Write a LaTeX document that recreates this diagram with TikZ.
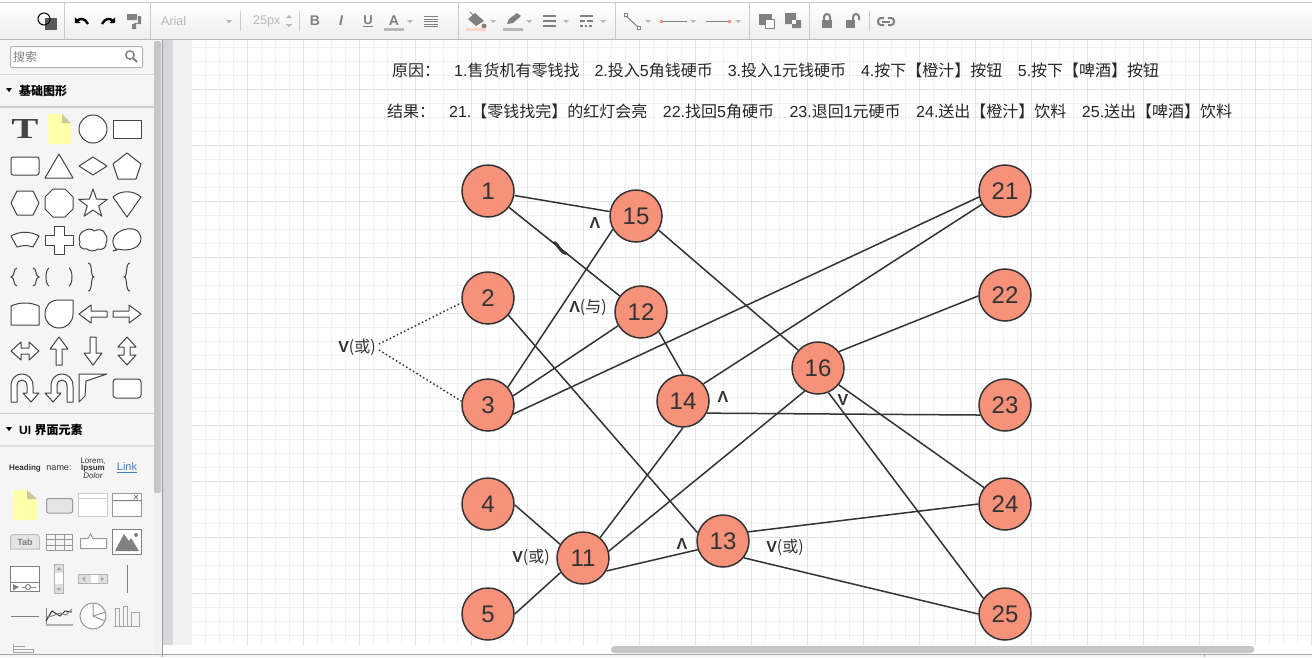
\documentclass[tikz,border=0pt]{standalone}
\usepackage{fontspec}
\setmainfont{Liberation Sans}
\newfontfamily\cjkfont{Noto Sans CJK SC}
\newfontfamily\serifface{Liberation Serif}
\newcommand{\zh}[1]{{\cjkfont #1}}
\usetikzlibrary{arrows.meta, positioning, calc}
\definecolor{gatefill}{HTML}{F6917A}
\definecolor{gateline}{HTML}{333333}
\definecolor{gridminor}{HTML}{F1F1F1}
\definecolor{gridmajor}{HTML}{E3E3E3}
\definecolor{panelbg}{HTML}{F5F5F5}
\definecolor{barbg}{HTML}{F2F2F2}
\definecolor{stripbg}{HTML}{D6D7DB}
\definecolor{thumbgray}{HTML}{C6C6C6}
\definecolor{iconline}{HTML}{444444}
\definecolor{tooldim}{HTML}{B8B8B8}
\definecolor{toolgray}{HTML}{808080}
\definecolor{notefill}{HTML}{FFFFAA}
\definecolor{linkblue}{HTML}{3C7FC6}
\begin{document}
\begin{tikzpicture}[x=1pt, y=-1pt,
        gate/.style={circle, draw=gateline, fill=gatefill, line width=1.5pt, minimum size=52pt, inner sep=0pt,
          text=gateline, font=\fontsize{24}{24}\selectfont},
        wire/.style={draw=gateline, line width=1.5pt},
        orwire/.style={draw=gateline, line width=1.5pt, dash pattern=on 1.5pt off 2.5pt},
        optext/.style={inner sep=0pt, text=gateline, font=\fontsize{16}{16}\selectfont},
        toptext/.style={anchor=west, inner sep=0pt, text=black!85, font=\fontsize{16}{16}\selectfont},
        icon/.style={draw=iconline, line width=1pt, fill=white, line join=round},
        uiicon/.style={draw=toolgray!80, line width=1pt, fill=white},
        uitext/.style={inner sep=0pt, text=black!80, font=\fontsize{9}{10}\selectfont},
        headtext/.style={anchor=west, inner sep=0pt, text=black, font=\fontsize{12}{12}\selectfont\bfseries},
        sepline/.style={draw=black!20, line width=1pt}]
  \useasboundingbox (0,0) rectangle (1312,657);
  % canvas and grid
  \fill[white] (0,0) rectangle (1312,657);
  \foreach \gx in {191,205,...,1311} \draw[gridminor, line width=1pt] (\gx,40) -- (\gx,645);
  \foreach \gy in {47,61,...,645} \draw[gridminor, line width=1pt] (192,\gy) -- (1312,\gy);
  \foreach \gx in {191,247,...,1311} \draw[gridmajor, line width=1pt] (\gx,40) -- (\gx,645);
  \foreach \gy in {89,145,...,645} \draw[gridmajor, line width=1pt] (192,\gy) -- (1312,\gy);
  % margins and scrollbars
  \fill[barbg] (173,40) rectangle (192,645);
  \fill[stripbg] (163,40) rectangle (173,645);
  \fill[panelbg] (0,40) rectangle (154,657);
  \fill[barbg] (154,40) rectangle (162,657);
  \fill[thumbgray, rounded corners=2pt] (154,41) rectangle (161,493);
  \draw[black!40, line width=1pt] (162.5,40) -- (162.5,657);
  \fill[thumbgray, rounded corners=3pt] (611,646) rectangle (1254,653);
  \fill[panelbg] (163,655) rectangle (1312,657);
  \draw[black!35, line width=1pt] (0,654.5) -- (1312,654.5);
  \draw[black!35, line width=1pt] (1204.5,654.5) -- (1204.5,657);
  % toolbar
  \shade[top color=white, bottom color=black!7] (0,3) rectangle (1312,39);
  \draw[black!20, line width=1pt] (0,2.5) -- (1312,2.5);
  \draw[black!28, line width=1pt] (0,39.5) -- (1312,39.5);
  \foreach \sx in {64.5,150.5,458.5,615.5,749.5,809.5} \draw[sepline] (\sx,3) -- (\sx,39);
  \foreach \sx in {240.5,299.5,869.5} \draw[sepline] (\sx,11) -- (\sx,31);
  \fill[black!65] (45,18) rectangle (57,30);
  \draw[black, line width=1pt] (44,19) circle[radius=6];
  \draw[black, line width=2.4pt, -{Triangle[length=4pt,width=8pt]}] (88,24) .. controls (85,18) and (80,18) .. (75,23);
  \draw[black, line width=2.4pt, -{Triangle[length=4pt,width=8pt]}] (102,24) .. controls (105,18) and (110,18) .. (115,23);
  \fill[toolgray] (127,14) rectangle (137,20) (138,16) rectangle (141,24) (132,24) rectangle (136,29);
  \draw[toolgray, line width=1pt] (138,23.5) -- (134,23.5) -- (134,25);
  \node[inner sep=0pt, anchor=west, text=tooldim, font=\fontsize{12.5}{12.5}\selectfont] (fontname) at (161,21) {Arial};
  \node[inner sep=0pt, anchor=west, text=tooldim, font=\fontsize{12.5}{12.5}\selectfont] (fontsize) at (253,21) {25px};
  \foreach \ax in {229,410,493,529,566,603,648,693,738} \fill[tooldim] (\ax-3,20) -- (\ax+3,20) -- (\ax,23) -- cycle;
  \fill[tooldim] (286,18) -- (292,18) -- (289,15) -- cycle (286,24) -- (292,24) -- (289,27) -- cycle;
  \node[inner sep=0pt, text=toolgray, font=\fontsize{14}{14}\selectfont\bfseries] (boldbtn) at (315,20.5) {B};
  \node[inner sep=0pt, text=toolgray, font=\fontsize{14}{14}\selectfont\bfseries\itshape] (italicbtn) at (341,20.5) {I};
  \node[inner sep=0pt, text=toolgray, font=\fontsize{13}{13}\selectfont\bfseries] (underbtn) at (368,20) {U};
  \draw[toolgray, line width=1pt] (363,26.5) -- (373,26.5);
  \node[inner sep=0pt, text=toolgray, font=\fontsize{14}{14}\selectfont\bfseries] (colorbtn) at (394,20.5) {A};
  \fill[tooldim] (384,28) rectangle (404,31);
  \foreach \ly in {16.5,19,21.5,24,26.5} \draw[toolgray, line width=1pt] (424,\ly) -- (438,\ly);
  % fill, line, weight, dash
  \fill[toolgray] (468,19) -- (475,13) -- (484,21) -- (476,26) -- cycle;
  \draw[toolgray, line width=1pt] (470,12) -- (476,18);
  \fill[toolgray] (484,26) circle[radius=2.5];
  \fill[gatefill!40] (466,28) rectangle (486,31);
  \fill[toolgray] (507,24) -- (509,19) -- (517,13) -- (521,16) -- (513,23) -- cycle;
  \fill[tooldim] (503,28) rectangle (523,31);
  \foreach \ly in {16,21,26} \draw[toolgray, line width=2pt] (543,\ly) -- (556,\ly);
  \draw[toolgray, line width=2pt] (580,16) -- (593,16) (580,21) -- (585,21) (587,21) -- (593,21);
  \draw[toolgray, line width=2pt, dash pattern=on 2.5pt off 2pt] (580,26) -- (593,26);
  \draw[toolgray, line width=1pt] (625,15) -- (638,27);
  \draw[toolgray, line width=1pt, fill=white] (624,13) rectangle (627,16) (637,26) rectangle (640,29);
  \draw[toolgray, line width=1pt] (662,21.5) -- (687,21.5);
  \fill[gatefill] (660,20) rectangle (663,23);
  \draw[toolgray, line width=1pt] (706,21.5) -- (730,21.5);
  \fill[gatefill] (728,20) rectangle (731,23);
  % order, lock, link
  \draw[toolgray, line width=1pt, fill=toolgray] (759,14) rectangle (771,24);
  \draw[toolgray, line width=1pt, fill=white] (765,19) rectangle (774,28);
  \fill[toolgray] (785,13) rectangle (796,24) (792,20) rectangle (801,28);
  \fill[white] (792,20) rectangle (796,24);
  \fill[toolgray] (822,20) rectangle (832,28);
  \draw[toolgray, line width=2pt] (824,20) -- (824,17) arc[start angle=180, end angle=360, radius=3] -- (830,20);
  \fill[toolgray] (846,20) rectangle (855,28);
  \draw[toolgray, line width=2pt] (853,20) -- (853,17) arc[start angle=180, end angle=360, radius=3] -- (859,20);
  \draw[toolgray, line width=2pt, rounded corners=3pt] (884,18) -- (878,18) -- (878,25) -- (884,25);
  \draw[toolgray, line width=2pt, rounded corners=3pt] (888,18) -- (894,18) -- (894,25) -- (888,25);
  \draw[toolgray, line width=2pt] (882,21.5) -- (890,21.5);
  % search box and headers
  \draw[black!30, fill=white, line width=1pt, rounded corners=2pt] (10.5,46.5) rectangle (142.5,67.5);
  \node[inner sep=0pt, anchor=west, text=black!50, font=\fontsize{12}{12}\selectfont] (searchtext) at (13,57) {\zh{搜索}};
  \draw[toolgray, line width=1.4pt] (130,55) circle[radius=4.2];
  \draw[toolgray, line width=2pt] (133,58) -- (137,62);
  \draw[black!15, line width=1pt] (0,74.5) -- (154,74.5);
  \fill[black] (6,88) -- (12,88) -- (9,92) -- cycle;
  \node[headtext] (basichead) at (19,90.5) {\zh{基础图形}};
  \draw[black!20, line width=2pt] (0,107) -- (154,107);
  \draw[black!20, line width=1pt] (0,413.5) -- (154,413.5);
  \fill[black] (6,427) -- (12,427) -- (9,431) -- cycle;
  \node[headtext] (uihead) at (19,429.5) {UI \zh{界面元素}};
  \draw[black!12, line width=2pt] (0,446) -- (154,446);
  % basic shapes
  \node[inner sep=0pt, text=iconline, xscale=1.4, font=\fontsize{29}{29}\serifface\bfseries] (texticon) at (25,129) {T};
  \fill[notefill] (48,114) -- (62,114) -- (71,123) -- (71,144) -- (48,144) -- cycle;
  \fill[notefill!70!black!70] (62,114) -- (71,123) -- (62,123) -- cycle;
  \draw[icon] (93,129) circle[radius=14];
  \draw[icon] (113,120) rectangle (141,138);
  \draw[icon, rounded corners=2pt] (11,157) rectangle (39,175);
  \draw[icon] (59,154) -- (73,178) -- (45,178) -- cycle;
  \draw[icon] (79,166) -- (93,157) -- (107,166) -- (93,175) -- cycle;
  \draw[icon] (127,153) -- (141,164) -- (136,179) -- (118,179) -- (113,164) -- cycle;
  \draw[icon] (17,191) -- (33,191) -- (39,203) -- (33,215) -- (17,215) -- (11,203) -- cycle;
  \draw[icon] (53,189) -- (65,189) -- (73,197) -- (73,209) -- (65,217) -- (53,217) -- (45,209) -- (45,197) -- cycle;
  \draw[icon] (93,189) -- (96.5,199.1) -- (107.3,199.4) -- (98.7,205.9) -- (101.8,216.1) -- (93,210) -- (84.2,216.1) -- (87.3,205.9) -- (78.7,199.4) -- (89.5,199.1) -- cycle;
  \draw[icon] (113,197) .. controls (121,190) and (133,190) .. (141,197) -- (127,217) -- cycle;
  \draw[icon] (11,236) .. controls (20,231) and (30,231) .. (39,236) -- (33,247) .. controls (27,245) and (23,245) .. (17,247) -- cycle;
  \draw[icon] (54,226) -- (64,226) -- (64,235) -- (73,235) -- (73,245) -- (64,245) -- (64,254) -- (54,254) -- (54,245) -- (45,245) -- (45,235) -- (54,235) -- cycle;
  \draw[icon] (84,231) .. controls (88,228) and (92,229) .. (94,231) .. controls (98,229) and (104,229) .. (105,234) .. controls (108,237) and (107,241) .. (106,243) .. controls (107,247) and (102,251) .. (98,249) .. controls (94,252) and (89,251) .. (87,249) .. controls (81,250) and (78,245) .. (80,242) .. controls (78,238) and (80,232) .. (84,231);
  \draw[icon] (117,250) .. controls (110,244) and (111,232) .. (127,229) .. controls (139,227) and (141,236) .. (141,239) .. controls (141,247) and (130,252) .. (118,249) -- (113,251) -- cycle;
  \draw[iconline, line width=1pt] (17,268) .. controls (13,268) and (15,277) .. (11,277) .. controls (15,277) and (13,286) .. (17,286);
  \draw[iconline, line width=1pt] (33,268) .. controls (37,268) and (35,277) .. (39,277) .. controls (35,277) and (37,286) .. (33,286);
  \draw[iconline, line width=1pt] (49,268) .. controls (45,270) and (45,284) .. (49,286);
  \draw[iconline, line width=1pt] (69,268) .. controls (73,270) and (73,284) .. (69,286);
  \draw[iconline, line width=1pt] (88,263) .. controls (93,263) and (90,277) .. (94,277) .. controls (90,277) and (93,291) .. (88,291);
  \draw[iconline, line width=1pt] (130,263) .. controls (125,263) and (128,277) .. (124,277) .. controls (128,277) and (125,291) .. (130,291);
  \draw[icon] (11,306) .. controls (20,302) and (30,302) .. (39,306) -- (39,325) -- (11,325) -- cycle;
  \draw[icon] (73,300) -- (59,300) .. controls (50,300) and (45,306) .. (45,314) .. controls (45,322) and (51,328) .. (59,328) .. controls (67,328) and (73,322) .. (73,314) -- cycle;
  \draw[icon] (79,314) -- (91,305) -- (91,311) -- (107,311) -- (107,317) -- (91,317) -- (91,323) -- cycle;
  \draw[icon] (141,314) -- (129,305) -- (129,311) -- (113,311) -- (113,317) -- (129,317) -- (129,323) -- cycle;
  \draw[icon] (11,351) -- (21,342) -- (21,348) -- (29,348) -- (29,342) -- (39,351) -- (29,360) -- (29,354) -- (21,354) -- (21,360) -- cycle;
  \draw[icon] (59,337) -- (68,349) -- (62,349) -- (62,365) -- (56,365) -- (56,349) -- (50,349) -- cycle;
  \draw[icon] (93,365) -- (84,353) -- (90,353) -- (90,337) -- (96,337) -- (96,353) -- (102,353) -- cycle;
  \draw[icon] (127,337) -- (136,347) -- (130,347) -- (130,355) -- (136,355) -- (127,365) -- (118,355) -- (124,355) -- (124,347) -- (118,347) -- cycle;
  \draw[icon] (11,402) -- (11,386) .. controls (11,370) and (33,370) .. (33,386) -- (33,393) -- (39,393) -- (31,402) -- (23,393) -- (27,393) -- (27,386) .. controls (27,378) and (17,378) .. (17,386) -- (17,402) -- cycle;
  \draw[icon] (73,402) -- (73,386) .. controls (73,370) and (51,370) .. (51,386) -- (51,393) -- (45,393) -- (53,402) -- (61,393) -- (57,393) -- (57,386) .. controls (57,378) and (67,378) .. (67,386) -- (67,402) -- cycle;
  \draw[icon] (79,402) -- (79,374) -- (107,374) -- (86,381) -- (85,396) -- cycle;
  \draw[icon, rounded corners=3pt] (113,379) rectangle (141,398);
  % ui shapes
  \node[uitext, font=\fontsize{8}{8}\selectfont\bfseries] (headingui) at (25,468) {Heading};
  \node[uitext, font=\fontsize{9}{9}\selectfont] (nameui) at (59,468) {name:};
  \node[uitext, align=center, font=\fontsize{8}{8}\selectfont] (loremui) at (93,468) {Lorem,\\[-0.5pt]\textbf{Ipsum}\\[-0.5pt]\textit{Dolor}};
  \node[inner sep=0pt, text=linkblue, font=\fontsize{11}{11}\selectfont] (linkui) at (127,467.5) {\underline{Link}};
  \fill[notefill] (13,490) -- (27,490) -- (37,499) -- (37,520) -- (13,520) -- cycle;
  \fill[notefill!70!black!70] (27,490) -- (37,499) -- (27,499) -- cycle;
  \draw[uiicon, fill=black!10, rounded corners=2pt] (46.5,498.5) rectangle (72.5,513);
  \draw[uiicon, draw=black!20] (78.5,493.5) rectangle (107.5,516.5);
  \draw[black!20, line width=1pt] (78.5,498.5) -- (107.5,498.5);
  \draw[uiicon] (112.5,493.5) rectangle (141.5,516.5);
  \draw[toolgray, line width=1pt] (112.5,500.5) -- (141.5,500.5) (134,495) -- (138,499) (134,499) -- (138,495);
  \draw[uiicon, draw=black!25, fill=black!10] (10.5,549) -- (10.5,538) .. controls (10.5,535) and (12,534.5) .. (15,534.5) -- (35,534.5) .. controls (38,534.5) and (39.5,535) .. (39.5,538) -- (39.5,549) -- cycle;
  \node[inner sep=0pt, text=toolgray, font=\fontsize{9}{9}\selectfont\bfseries] (tabui) at (25,542.5) {Tab};
  \draw[uiicon, fill=none] (46.5,534.5) rectangle (72.5,550.5) (46.5,539.5) -- (72.5,539.5) (46.5,545) -- (72.5,545) (55,534.5) -- (55,550.5) (64,534.5) -- (64,550.5);
  \draw[uiicon] (80.5,538.5) -- (88,538.5) -- (90.5,534) -- (93,538.5) -- (106.5,538.5) -- (106.5,548.5) -- (80.5,548.5) -- cycle;
  \draw[uiicon, draw=toolgray] (112.5,529.5) rectangle (141.5,554.5);
  \fill[toolgray] (115,551) -- (124,534) -- (129,541) -- (131,538) -- (139,551) -- cycle;
  \fill[toolgray] (136,535) circle[radius=2];
  \draw[uiicon, draw=toolgray] (10.5,566.5) rectangle (39.5,591.5) (10.5,582.5) -- (39.5,582.5);
  \fill[toolgray] (13,584) -- (19,587) -- (13,590.5) -- cycle;
  \draw[toolgray, line width=1pt] (22,587) -- (36,587);
  \draw[uiicon, draw=toolgray] (28,587) circle[radius=2.5];
  \draw[uiicon, draw=black!30, fill=black!12] (54.5,564.5) rectangle (63.5,593.5);
  \fill[white] (55,573) rectangle (63,584);
  \fill[toolgray!70] (56.5,570) -- (61.5,570) -- (59,567) -- cycle (56.5,588) -- (61.5,588) -- (59,591) -- cycle;
  \draw[uiicon, draw=black!30, fill=black!12] (78.5,574.5) rectangle (107.5,583.5);
  \fill[white] (91,575) rectangle (98,583);
  \fill[toolgray!70] (85,576.5) -- (85,581.5) -- (82,579) -- cycle (101,576.5) -- (101,581.5) -- (104,579) -- cycle;
  \draw[toolgray, line width=1pt] (127.5,565) -- (127.5,593);
  \draw[toolgray, line width=1pt] (11,616.5) -- (39,616.5);
  \draw[black!30, line width=1.4pt] (46,625) -- (73,625);
  \draw[black!50, line width=1pt] (46,624) -- (46,608);
  \draw[black!80, line width=1pt] (46,621) -- (52,611) -- (60,616) -- (65,611) -- (72,612);
  \draw[black!50, line width=1pt] (46,617) -- (52,616) -- (60,613) -- (66,615) -- (72,609);
  \draw[uiicon] (93,616) circle[radius=13];
  \draw[uiicon, fill=none] (93,603) -- (93,616) -- (106,612) (93,616) -- (105,621);
  \draw[uiicon, fill=none, draw=black!35] (115,626) -- (115,608) -- (119,608) -- (119,626) -- (123,626) -- (123,606) -- (127,606) -- (127,626) -- (131,626) -- (131,612) -- (139,612) -- (139,626);
  \draw[black!35, line width=1pt] (114,626) -- (140,626);
  \draw[uiicon, fill=none, draw=black!35] (13,646) -- (25,646) (13,649) -- (33,649) -- (33,652) -- (13,652) (13,644) -- (13,653);
  % causes and results
  \node[toptext] (causes) at (392,70.5) {\zh{原因：}\hspace{14pt}1.\zh{售货机有零钱找}\hspace{15pt}2.\zh{投入}5\zh{角钱硬币}\hspace{15pt}3.\zh{投入}1\zh{元钱硬币}\hspace{15pt}4.\zh{按下【橙汁】按钮}\hspace{15.5pt}5.\zh{按下【啤酒】按钮}};
  \node[toptext] (results) at (387,111.5) {\zh{结果：}\hspace{14pt}21.\zh{【零钱找完】的红灯会亮}\hspace{15.5pt}22.\zh{找回}5\zh{角硬币}\hspace{15.5pt}23.\zh{退回}1\zh{元硬币}\hspace{15.5pt}24.\zh{送出【橙汁】饮料}\hspace{15.5pt}25.\zh{送出【啤酒】饮料}};
  % gates
  \node[gate] (n1) at (488,191) {1};
  \node[gate] (n2) at (488,298) {2};
  \node[gate] (n3) at (488,405) {3};
  \node[gate] (n4) at (488,504) {4};
  \node[gate] (n5) at (488,614) {5};
  \node[gate] (n11) at (583,558) {11};
  \node[gate] (n12) at (641,312) {12};
  \node[gate] (n13) at (723,541) {13};
  \node[gate] (n14) at (683,401) {14};
  \node[gate] (n15) at (636,216) {15};
  \node[gate] (n16) at (818,368) {16};
  \node[gate] (n21) at (1005,191) {21};
  \node[gate] (n22) at (1005,295) {22};
  \node[gate] (n23) at (1005,405) {23};
  \node[gate] (n24) at (1005,504) {24};
  \node[gate] (n25) at (1005,614) {25};
  % connections
  \draw[wire] (n1) -- (n15);
  \draw[wire] (n1.-38) -- (n12.143);
  \draw[wire] (n2.-40) -- (n13.162);
  \draw[wire] (n3.42) -- (n15.210);
  \draw[wire] (n3.20) -- (n12.211);
  \draw[wire] (n3.-20) -- (n21.193);
  \draw[wire] (n12.-48) -- (n14.90);
  \draw[wire] (n14.40) -- (n21.210);
  \draw[wire] (n14.-27) -- (n23.202);
  \draw[wire] (n15.-32) -- (n16.138);
  \draw[wire] (n16.38) -- (n22.182);
  \draw[wire] (n16.-39) -- (n24.142);
  \draw[wire] (n16.-67) -- (n25.144);
  \draw[wire] (n4.-2) -- (n11.149);
  \draw[wire] (n5.0) -- (n11.213);
  \draw[wire] (n11.50) -- (n14.-90);
  \draw[wire] (n11.15) -- (n16.240);
  \draw[wire] (n11.-29) -- (n13.199);
  \draw[wire] (n13.20) -- (n24.180);
  \draw[wire] (n13.-39) -- (n25.180);
  \draw[gateline, line width=3pt, line cap=round] (554.5,242.5) .. controls (558,244) and (559,251) .. (566,253.5);
  % operators
  \node[optext] (orleft) at (357,347) {\textbf{V}\zh{(或)}};
  \node[optext] (andone) at (595,223) {\textbf{Λ}};
  \node[optext] (andtwo) at (588,308) {\textbf{Λ}\zh{(与)}};
  \node[optext] (andthree) at (723,397) {\textbf{Λ}};
  \node[optext] (orone) at (843,400) {\textbf{V}};
  \node[optext] (ortwo) at (531,557) {\textbf{V}\zh{(或)}};
  \node[optext] (andfour) at (682,544) {\textbf{Λ}};
  \node[optext] (orthree) at (785,547) {\textbf{V}\zh{(或)}};
  \draw[orwire] (orleft.east) ++(3,-3) coordinate (orup) -- (n2.190);
  \draw[orwire] (orleft.east) ++(3,3) coordinate (ordown) -- (n3.172);
\end{tikzpicture}
\end{document}
